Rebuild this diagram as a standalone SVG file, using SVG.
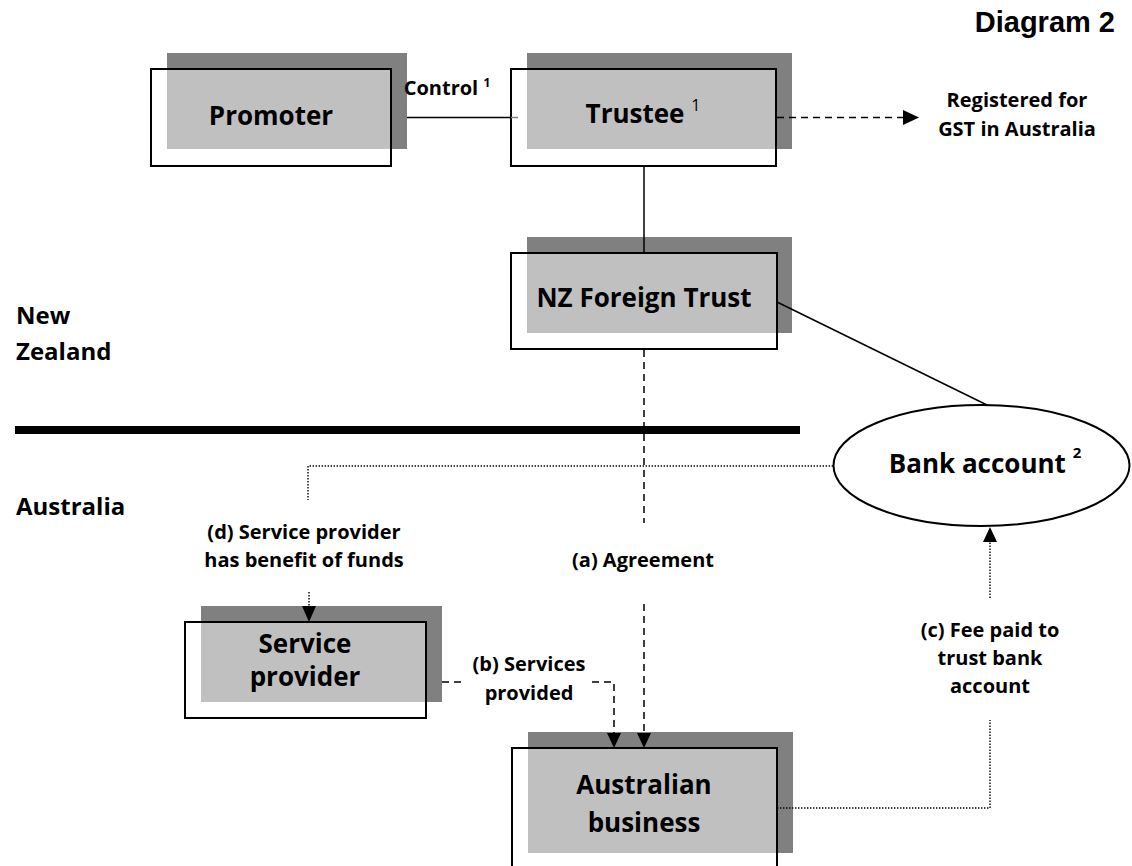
<svg xmlns="http://www.w3.org/2000/svg" width="1132" height="866" viewBox="0 0 1132 866">
<style>
.shadow{fill:#808080}
.box{fill:#fff;fill-opacity:.5;stroke:#000;stroke-width:2}
.t{font-family:"Open Sans","Liberation Sans",sans-serif;font-weight:bold;fill:#000}
.big{font-size:26px;text-anchor:middle}
.lbl{font-size:20px;text-anchor:middle}
.reg{font-size:24px}
.solid{fill:none;stroke:#000;stroke-width:1.5}
.dash{fill:none;stroke:#000;stroke-width:1.5;stroke-dasharray:7 5}
.dot{fill:none;stroke:#000;stroke-width:1.4;stroke-dasharray:1.4 1.6}
.head{fill:#000}
</style>
<text x="1115" y="32" font-family="Liberation Sans, Arial, sans-serif" font-weight="bold" font-size="29" text-anchor="end">Diagram 2</text>
<g id="regions">
<line x1="15" y1="430" x2="800" y2="430" stroke="#000" stroke-width="8"/>
<text class="t reg" x="16" y="324">New</text>
<text class="t reg" x="16" y="360">Zealand</text>
<text class="t reg" x="16" y="515">Australia</text>
</g>
<g id="promoter">
<rect class="shadow" x="167" y="53" width="240" height="96"/>
<rect class="box" x="151" y="69" width="240" height="97"/>
<text class="t big" x="271" y="125">Promoter</text>
</g>
<g id="trustee">
<rect class="shadow" x="527" y="53" width="265" height="96"/>
<rect class="box" x="511" y="69" width="265" height="97"/>
<text class="t big" x="643" y="123">Trustee <tspan font-weight="normal" font-size="16" dy="-12">1</tspan></text>
</g>
<g id="nz-foreign-trust">
<rect class="shadow" x="527" y="237" width="265" height="96"/>
<rect class="box" x="511" y="253" width="266" height="96"/>
<text class="t big" x="644" y="307">NZ Foreign Trust</text>
</g>
<g id="bank-account">
<ellipse cx="981.5" cy="465.5" rx="148" ry="60.5" fill="#fff" stroke="#000" stroke-width="2"/>
<text class="t big" x="985" y="473">Bank account <tspan font-size="15" dy="-15">2</tspan></text>
</g>
<g id="service-provider">
<rect class="shadow" x="201" y="606" width="241" height="96"/>
<rect class="box" x="185" y="622" width="241" height="96"/>
<text class="t big" x="305" y="653">Service</text>
<text class="t big" x="305" y="686">provider</text>
</g>
<g id="australian-business">
<rect class="shadow" x="528" y="732" width="265" height="121"/>
<rect class="box" x="512" y="748" width="265" height="121"/>
<text class="t big" x="644" y="794">Australian</text>
<text class="t big" x="644" y="832">business</text>
</g>
<g id="connectors">
<line class="solid" x1="407" y1="117.5" x2="511" y2="117.5"/>
<line x1="511" y1="117.5" x2="518" y2="117.5" stroke="#808080" stroke-width="1.5"/>
<line class="solid" x1="644" y1="166" x2="644" y2="253"/>
<line class="dash" x1="777" y1="117.5" x2="904" y2="117.5"/>
<polygon class="head" points="903,110 919,117.5 903,125"/>
<line class="solid" x1="777" y1="302" x2="987" y2="405"/>
<polyline class="dot" points="833,466 308,466 308,500"/>
<line class="dash" x1="644" y1="350" x2="644" y2="523"/>
<line class="dash" x1="644" y1="604" x2="644" y2="734"/>
<polygon class="head" points="637,733 651,733 644,748"/>
<line class="dash" x1="442" y1="682" x2="465" y2="682"/>
<polyline class="dash" points="592,682 614,682 614,734"/>
<polygon class="head" points="607,733 621,733 614,748"/>
<line class="dot" x1="309" y1="592" x2="309" y2="607"/>
<polygon class="head" points="302,606 316,606 309,622"/>
<polyline class="dot" points="777,808 990,808 990,720"/>
<line class="dot" x1="990" y1="598" x2="990" y2="541"/>
<polygon class="head" points="983,542 997,542 990,527"/>
<text class="t lbl" x="447" y="95">Control <tspan font-size="12" dy="-8">1</tspan></text>
<text class="t lbl" x="1017" y="107">Registered for</text>
<text class="t lbl" x="1017" y="136">GST in Australia</text>
<text class="t lbl" x="643" y="567">(a) Agreement</text>
<text class="t lbl" x="529" y="671">(b) Services</text>
<text class="t lbl" x="529" y="700">provided</text>
<text class="t lbl" x="990" y="637">(c) Fee paid to</text>
<text class="t lbl" x="990" y="665">trust bank</text>
<text class="t lbl" x="990" y="693">account</text>
<text class="t lbl" x="304" y="539">(d) Service provider</text>
<text class="t lbl" x="304" y="567">has benefit of funds</text>
</g>
</svg>
